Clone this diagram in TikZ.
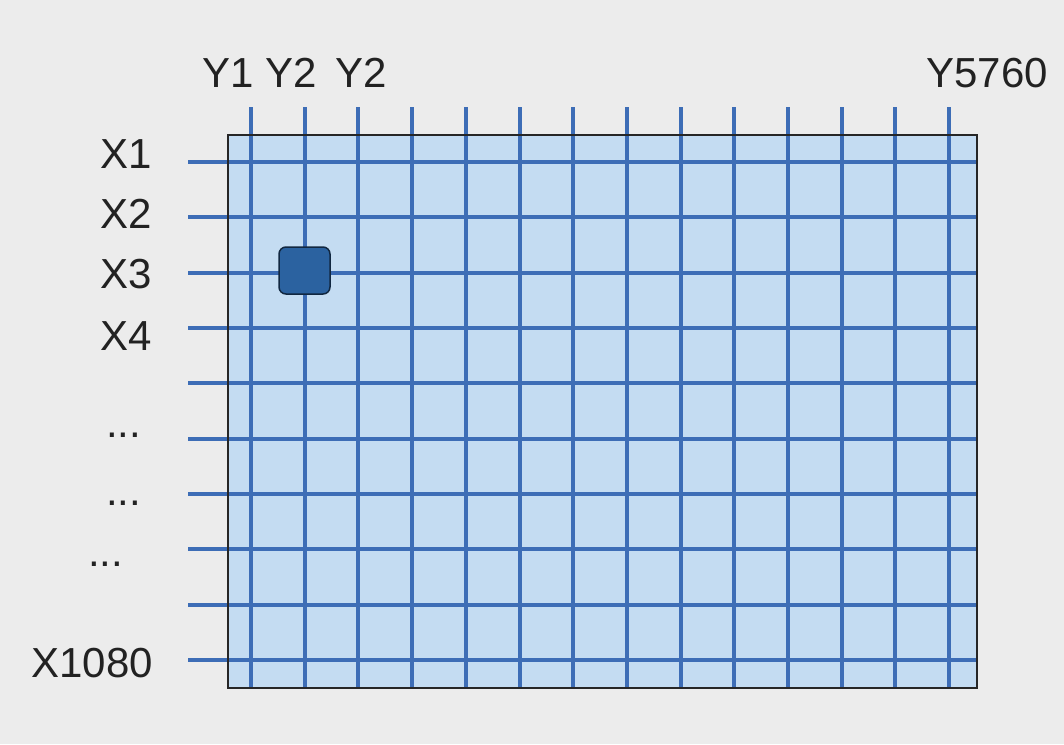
\documentclass[tikz,border=0pt]{standalone}
\usepackage{fontspec}
\setmainfont{Liberation Sans}
\definecolor{bg}{HTML}{ECECEC}
\definecolor{cellfill}{HTML}{C4DCF2}
\definecolor{gridblue}{HTML}{3D6DB6}
\definecolor{pixel}{HTML}{2B62A0}
\definecolor{ink}{HTML}{222222}
\begin{document}
\begin{tikzpicture}[x=1pt,y=-1pt,
  lbl/.style={font=\fontsize{42}{42}\selectfont, text=ink, inner sep=0pt},
  gline/.style={draw=gridblue, line width=4pt},
  frameline/.style={draw=black!85, line width=2.5pt},
  px/.style={fill=pixel, draw=black!60!pixel, line width=1.5pt, rounded corners=7pt}]
\fill[bg] (0,0) rectangle (1064,744);
\useasboundingbox (0,0) rectangle (1064,744);
% panel
\coordinate (nw) at (228,135);
\coordinate (se) at (977,688);
\fill[cellfill] (nw) rectangle (se);
% column lines
\foreach \i in {0,...,13} {
  \draw[gline] ({251+53.7*\i},107) -- ({251+53.7*\i},688);
}
% row lines
\foreach \j in {0,...,9} {
  \draw[gline] (188,{162+55.33*\j}) -- (977,{162+55.33*\j});
}
\draw[frameline] (nw) rectangle (se);
% selected pixel
\node[px, minimum width=51pt, minimum height=47pt, inner sep=0pt] (pix) at (304.5,270.5) {};
% column labels
\node[lbl, anchor=base] (y1) at (228,87) {Y1};
\node[lbl, anchor=base] (y2a) at (291,87) {Y2};
\node[lbl, anchor=base] (y2b) at (361,87) {Y2};
\node[lbl, anchor=base] (y5760) at (987,87) {Y5760};
% row labels
\node[lbl, anchor=base east] (x1) at (152,168) {X1};
\node[lbl, anchor=base east] (x2) at (152,228) {X2};
\node[lbl, anchor=base east] (x3) at (152,288) {X3};
\node[lbl, anchor=base east] (x4) at (152,350) {X4};
\node[lbl, anchor=base west] (d1) at (106,437) {...};
\node[lbl, anchor=base west] (d2) at (106,505) {...};
\node[lbl, anchor=base west] (d3) at (88,566) {...};
\node[lbl, anchor=base east] (x1080) at (153,677) {X1080};
\end{tikzpicture}
\end{document}
